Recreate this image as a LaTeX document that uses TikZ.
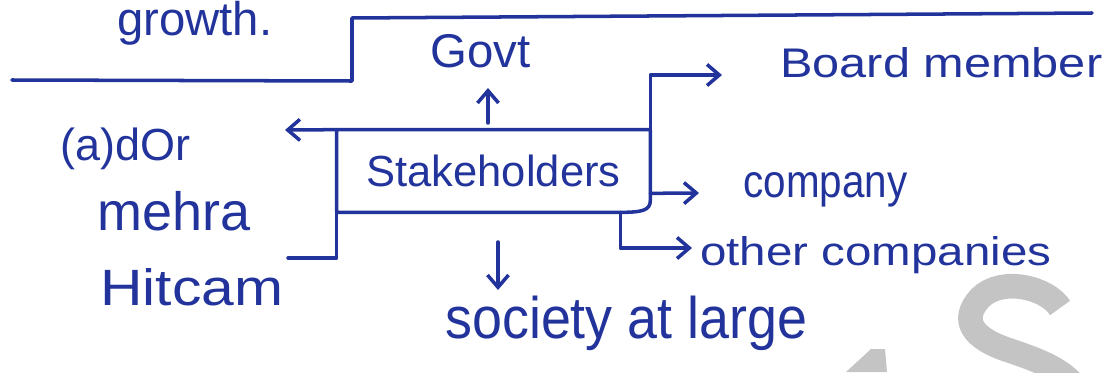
\documentclass[tikz,border=0pt]{standalone}
\usepackage{fontspec}
\setmainfont{Liberation Sans}
\usetikzlibrary{arrows.meta,calc}
\definecolor{pen}{RGB}{34,52,156}
\definecolor{wmark}{RGB}{196,196,196}
\newcommand{\hw}[2]{\resizebox{#1}{!}{#2}}
\newcommand{\hwh}[3]{\resizebox{#1}{#2}{#3}}
\begin{document}
\begin{tikzpicture}[x=0.02cm,y=-0.02cm,
  ink/.style={draw=pen,line width=2pt,line cap=round,line join=round},
  arr/.style={ink,-{Straight Barb[length=7pt,width=12pt,line width=2pt]}},
  lbl/.style={text=pen,inner sep=0pt,anchor=base west},
  wm/.style={draw=wmark,line width=14pt}]
\useasboundingbox (0,0) rectangle (1104,372);
% watermark
\draw[wm] (1060,308) .. controls (1048,288) and (1002,276) .. (980,298)
  .. controls (960,320) and (972,338) .. (1008,350)
  .. controls (1050,364) and (1086,378) .. (1086,420);
\fill[wmark] (846,372) -- (871,349) -- (885,349) -- (887,372) -- cycle;
% step line
\draw[ink] (12,80) -- (352,81) -- (352,18) -- (1092,13);
% texts
\node[lbl] (growth) at (117,35) {\hw{3.1cm}{growth.}};
\node[lbl] (govt) at (430,67) {\hw{2.0cm}{Govt}};
\node[lbl] (bm) at (780,77) {\hwh{6.44cm}{0.6cm}{Board member}};
\node[lbl] (comp) at (743,197) {\hwh{3.28cm}{0.5cm}{company}};
\node[lbl] (oc) at (700,265) {\hwh{7.02cm}{0.58cm}{other companies}};
\node[lbl] (soc) at (445,338) {\hwh{7.24cm}{0.85cm}{society at large}};
\node[lbl] (dor) at (60,160) {\hw{2.6cm}{(a)dOr}};
\node[lbl] (mehra) at (97,230) {\hw{3.06cm}{mehra}};
\node[lbl] (hit) at (100,305) {\hwh{3.66cm}{0.74cm}{Hitcam}};
% box (outline drawn with a rounded lower right corner)
\node[minimum width=6.26cm,minimum height=1.64cm,inner sep=0pt,text=pen]
  (sh) at (493.5,171) {\hw{5.08cm}{Stakeholders}};
\draw[ink] (sh.south west) -- (sh.north west) -- (sh.north east)
  -- ($(sh.south east)+(0,-12)$)
  .. controls ($(sh.south east)+(0,-2)$) and ($(sh.south east)+(-8,0)$) .. ($(sh.south east)+(-30,0)$)
  -- cycle;
% connector ends
\coordinate (gu) at (488,123);
\coordinate (gt) at (488,88);
\coordinate (bmtip) at (722,75);
\coordinate (ctip) at (699,193);
\coordinate (octip) at (692,248);
\coordinate (su) at (498,242);
\coordinate (st) at (498,290);
\coordinate (dtip) at (285,130);
\coordinate (hb) at (288,258);
% connectors
\draw[arr] (gu) -- (gt);
\draw[arr] (sh.north east) |- (bmtip);
\draw[arr] ($(sh.south east)+(0,-19)$) -- (ctip);
\draw[arr] ($(sh.south east)+(-30,0)$) |- (octip);
\draw[arr] (su) -- (st);
\draw[arr] (sh.north west) -- (dtip);
\draw[ink] ($(sh.south west)+(0,-5)$) |- (hb);
\end{tikzpicture}
\end{document}
